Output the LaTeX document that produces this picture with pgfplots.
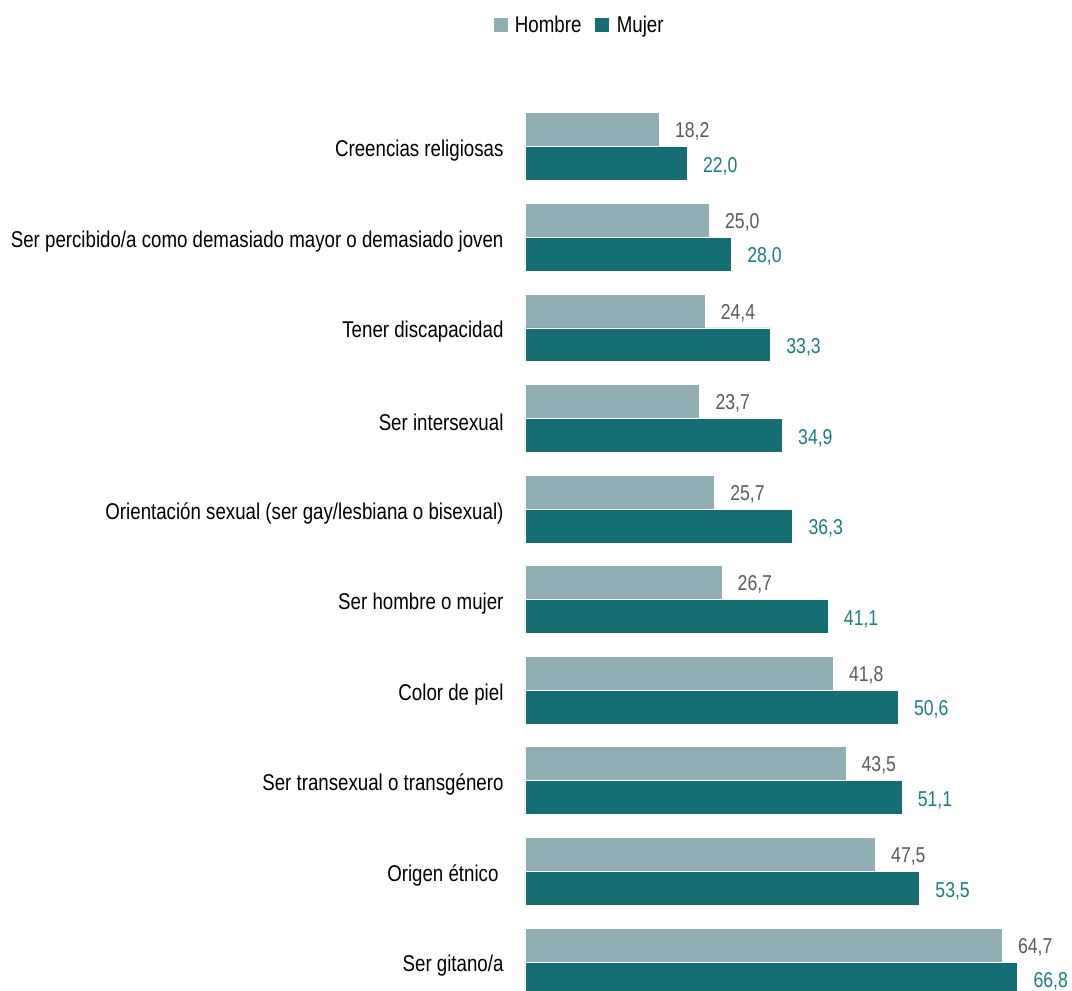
\documentclass[border=0pt]{standalone}
\usepackage{pgfplots}
\pgfplotsset{compat=1.18}
\usepackage{fontspec}
\setmainfont[FakeStretch=0.82]{Liberation Sans}
\definecolor{hom}{HTML}{91AEB5}
\definecolor{muj}{HTML}{146E73}
\definecolor{homtxt}{HTML}{5A5A5A}
\definecolor{mujtxt}{HTML}{1B7C82}
\begin{document}
\begin{tikzpicture}[x=1pt,y=1pt]
\begin{axis}[
  at={(525pt,0pt)}, anchor=south west,
  scale only axis, width=546pt, height=885pt,
  xbar, bar width=0.375, bar shift=0pt,
  xmin=0, xmax=74, ymin=-0.45, ymax=9.32, y dir=reverse,
  clip=false,
  axis line style={draw=none},
  major tick length=0pt,
  xtick=\empty,
  ytick={0,...,9},
  yticklabels={Creencias religiosas,
    Ser percibido/a como demasiado mayor o demasiado joven,
    Tener discapacidad,
    Ser intersexual,
    Orientación sexual (ser gay/lesbiana o bisexual),
    Ser hombre o mujer,
    Color de piel,
    Ser transexual o transgénero,
    Origen étnico\hspace*{5pt},
    Ser gitano/a},
  yticklabel style={anchor=east, xshift=-18pt, yshift=-4pt, font=\fontsize{22.8}{27}\selectfont, text=black},
  nodes near coords={\pgfmathprintnumber[use comma,fixed,fixed zerofill,precision=1,assume math mode=true]{\pgfplotspointmeta}},
  every node near coord/.append style={anchor=west, xshift=12pt, font=\fontsize{21.5}{26}\selectfont},
  legend columns=2,
  legend style={draw=none, at={(0.1,1.0915)}, anchor=center, font=\fontsize{22.8}{27}\selectfont,
    /tikz/every even column/.append style={column sep=12pt}},
  legend image code/.code={\fill[#1,draw=none] (0pt,-7pt) rectangle (14pt,7pt); \path (19pt,0pt);},
]
\addplot[fill=hom, draw=white, line width=0.8pt, every node near coord/.append style={text=homtxt, yshift=-2pt}] coordinates {
 (18.2,-0.1875) (25.0,0.8125) (24.4,1.8125) (23.7,2.8125) (25.7,3.8125)
 (26.7,4.8125) (41.8,5.8125) (43.5,6.8125) (47.5,7.8125) (64.7,8.8125)};
\addplot[fill=muj, draw=white, line width=0.8pt, every node near coord/.append style={text=mujtxt, yshift=-2.5pt}] coordinates {
 (22.0,0.1875) (28.0,1.1875) (33.3,2.1875) (34.9,3.1875) (36.3,4.1875)
 (41.1,5.1875) (50.6,6.1875) (51.1,7.1875) (53.5,8.1875) (66.8,9.1875)};
\legend{Hombre, Mujer}
\end{axis}
\pgfresetboundingbox
\path[use as bounding box] (0,0) rectangle (1072,991);
\end{tikzpicture}
\end{document}
